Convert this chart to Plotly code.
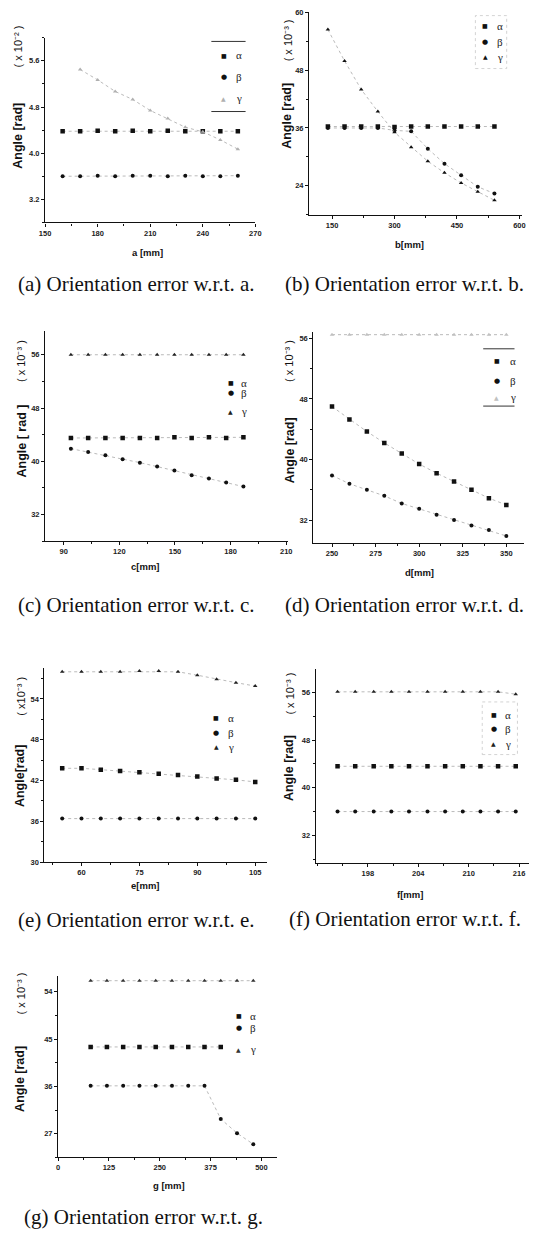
import plotly.graph_objects as go

W, H = 543, 1252

# ---------------- data ----------------
a_x = [160, 170, 180, 190, 200, 210, 220, 230, 240, 250, 260]
a_alpha = [4.38, 4.38, 4.39, 4.38, 4.39, 4.38, 4.39, 4.38, 4.38, 4.38, 4.38]
a_beta = [3.60, 3.60, 3.61, 3.60, 3.61, 3.61, 3.60, 3.61, 3.60, 3.60, 3.61]
a_gamma_x = [170, 180, 190, 200, 210, 220, 230, 240, 250, 260]
a_gamma = [5.45, 5.27, 5.07, 4.93, 4.74, 4.60, 4.45, 4.37, 4.23, 4.07]

b_x = [140, 180, 220, 260, 300, 340, 380, 420, 460, 500, 540]
b_alpha = [36.3, 36.3, 36.3, 36.3, 36.2, 36.3, 36.3, 36.3, 36.3, 36.3, 36.3]
b_beta = [36.0, 36.0, 36.0, 36.0, 35.5, 35.3, 31.7, 28.6, 26.2, 23.8, 22.4]
b_gamma = [56.4, 49.9, 44.0, 39.4, 35.1, 32.0, 29.1, 26.7, 24.6, 22.8, 21.0]

c_x = [93.9, 103.2, 112.5, 121.8, 131.1, 140.4, 149.7, 159.0, 168.3, 177.6, 186.9]
c_alpha = [43.5, 43.5, 43.5, 43.5, 43.5, 43.5, 43.6, 43.5, 43.6, 43.5, 43.6]
c_beta = [41.9, 41.4, 40.9, 40.3, 39.8, 39.2, 38.6, 37.9, 37.4, 36.8, 36.2]
c_gamma = [56.0, 56.0, 56.0, 56.0, 56.0, 56.0, 56.0, 56.0, 56.0, 56.0, 56.0]

d_x = [250, 260, 270, 280, 290, 300, 310, 320, 330, 340, 350]
d_alpha = [47.0, 45.3, 43.7, 42.2, 40.8, 39.4, 38.2, 37.1, 36.0, 34.9, 34.0]
d_beta = [37.9, 36.8, 36.0, 35.2, 34.2, 33.5, 32.7, 32.0, 31.3, 30.7, 29.9]
d_gamma = [56.5, 56.5, 56.5, 56.5, 56.5, 56.5, 56.5, 56.5, 56.5, 56.5, 56.5]

e_x = [55, 60, 65, 70, 75, 80, 85, 90, 95, 100, 105]
e_alpha = [43.8, 43.8, 43.6, 43.4, 43.2, 43.0, 42.8, 42.6, 42.3, 42.1, 41.8]
e_beta = [36.4, 36.4, 36.4, 36.4, 36.4, 36.4, 36.4, 36.4, 36.4, 36.4, 36.4]
e_gamma = [58.0, 58.0, 58.0, 58.0, 58.1, 58.1, 58.0, 57.5, 56.9, 56.4, 55.9]

f_x = [194.4, 196.5, 198.7, 200.8, 202.9, 205.1, 207.2, 209.3, 211.4, 213.5, 215.6]
f_alpha = [43.6, 43.6, 43.6, 43.6, 43.6, 43.6, 43.6, 43.6, 43.6, 43.6, 43.6]
f_beta = [36.0, 36.0, 36.0, 36.0, 36.0, 36.0, 36.0, 36.0, 36.0, 36.0, 36.0]
f_gamma = [56.1, 56.1, 56.1, 56.1, 56.1, 56.1, 56.1, 56.1, 56.1, 56.1, 55.7]

g_x = [80, 120, 160, 200, 240, 280, 320, 360, 400, 440, 480]
g_alpha_x = [80, 120, 160, 200, 240, 280, 320, 360, 400]
g_alpha = [43.5, 43.5, 43.5, 43.5, 43.5, 43.5, 43.5, 43.5, 43.5]
g_beta = [36.1, 36.1, 36.1, 36.1, 36.1, 36.1, 36.1, 36.1, 29.8, 27.1, 25.0]
g_gamma = [56.1, 56.1, 56.1, 56.1, 56.1, 56.1, 56.1, 56.1, 56.1, 56.1, 56.1]

# tick labels
a_xticks = [150, 180, 210, 240, 270]
a_yticks = [3.2, 4.0, 4.8, 5.6]
b_xticks = [150, 300, 450, 600]
b_yticks = [24, 36, 48, 60]
c_xticks = [90, 120, 150, 180, 210]
c_yticks = [32, 40, 48, 56]
d_xticks = [250, 275, 300, 325, 350]
d_yticks = [32, 40, 48, 56]
e_xticks = [60, 75, 90, 105]
e_yticks = [30, 36, 42, 48, 54]
f_xticks = [198, 204, 210, 216]
f_yticks = [32, 40, 48, 56]
g_xticks = [0, 125, 250, 375, 500]
g_yticks = [27, 36, 45, 54]

series_names = ["α", "β", "γ"]
captions = ["(a) Orientation error w.r.t. a.", "(b) Orientation error w.r.t. b.",
            "(c) Orientation error w.r.t. c.", "(d) Orientation error w.r.t. d.",
            "(e) Orientation error w.r.t. e.", "(f) Orientation error w.r.t. f.",
            "(g) Orientation error w.r.t. g."]
xtitles = ["a [mm]", "b[mm]", "c[mm]", "d[mm]", "e[mm]", "f[mm]", "g [mm]"]
ytitles = ["Angle [rad]", "Angle [rad]", "Angle [ rad ]", "Angle [rad]",
           "Angle[rad]", "Angle [rad]", "Angle [rad]"]
scales = ["( x 10⁻² )", "( x 10⁻³ )", "( x 10⁻³ )", "( x 10⁻³ )",
          "( x10⁻³ )", "( x 10⁻³ )", "( x 10⁻³ )"]

# ---------------- geometry (pixels) ----------------
panels = [
    dict(L=40, R=255, T=34, B=220, xr=[150, 270], yr=[2.8, 6.0], xt=a_xticks, yt=a_yticks, fmt=".1f", xm=15, ym=0.4, x0=150, y0=2.8),
    dict(L=310, R=528, T=8.3, B=212.3, xr=[95, 607], yr=[18, 60], xt=b_xticks, yt=b_yticks, fmt="d", xm=75, ym=6, x0=0, y0=0),
    dict(L=40, R=288.5, T=329.8, B=541.1, xr=[80, 211], yr=[28, 59.5], xt=c_xticks, yt=c_yticks, fmt="d", xm=15, ym=4, x0=0, y0=0),
    dict(L=314.3, R=530, T=330, B=542.7, xr=[239.3, 360.3], yr=[29, 56.9], xt=d_xticks, yt=d_yticks, fmt="d", xm=12.5, ym=4, x0=0, y0=0),
    dict(L=39.3, R=266.7, T=669.2, B=864.3, xr=[50.4, 108], yr=[30, 58.5], xt=e_xticks, yt=e_yticks, fmt="d", xm=7.5, ym=3, x0=0, y0=0),
    dict(L=316.7, R=535, T=670, B=865, xr=[191.8, 217.2], yr=[27.4, 59.9], xt=f_xticks, yt=f_yticks, fmt="d", xm=3, ym=4, x0=0, y0=0),
    dict(L=53.3, R=277, T=979, B=1161.7, xr=[0, 538], yr=[22.5, 57], xt=g_xticks, yt=g_yticks, fmt="d", xm=62.5, ym=4.5, x0=0, y0=0),
]

series = [
    (a_x, a_alpha, a_x, a_beta, a_gamma_x, a_gamma),
    (b_x, b_alpha, b_x, b_beta, b_x, b_gamma),
    (c_x, c_alpha, c_x, c_beta, c_x, c_gamma),
    (d_x, d_alpha, d_x, d_beta, d_x, d_gamma),
    (e_x, e_alpha, e_x, e_beta, e_x, e_gamma),
    (f_x, f_alpha, f_x, f_beta, f_x, f_gamma),
    (g_alpha_x, g_alpha, g_x, g_beta, g_x, g_gamma),
]
gamma_colors = ["#b0b0b0", "#111", "#222", "#c0c0c0", "#222", "#222", "#333"]

xtitle_pos = [(145, 250), (413, 242), (143, 567), (423, 573), (143, 888), (413, 897), (167, 1190)]
ytitle_pos = [(12, 133), (288, 113), (16, 440), (290, 450), (15, 777), (290, 770), (15, 1083)]
scale_pos = [(12, 43), (288, 37), (16, 360), (290, 360), (15, 697), (290, 695), (15, 997)]
caption_pos = [(133, 282), (408, 282), (133, 605), (408, 605), (133, 923), (408, 922), (141, 1222)]
legend_pos = [
    (222.7, 238, [51.7, 73.3, 95]),
    (490, 505, [21.7, 38.3, 53.3]),
    (230, 243, [381.7, 391.7, 410]),
    (502, 518, [359.3, 379.3, 396]),
    (215, 230, [719, 734.3, 748.3]),
    (499, 513, [716, 730, 745]),
    (238, 253, [1019, 1031, 1053]),
]

def px(xp):
    return xp / W

def py(yp):
    return 1 - yp / H

def label(xp, yp, text, font, angle=0):
    return dict(x=px(xp), y=py(yp), xref="paper", yref="paper", text=text,
                showarrow=False, xanchor="center", yanchor="middle",
                textangle=angle, font=font)

fig = go.Figure()
layout = {}
annotations = []
shapes = []

tickfont = dict(family="Liberation Sans", size=7.5, color="#222", weight="bold")
symbols = ["square", "circle", "triangle-up"]
legend_glyph = ["■", "●", "▲"]

for i, p in enumerate(panels):
    k = i + 1
    xa = "xaxis" if k == 1 else f"xaxis{k}"
    ya = "yaxis" if k == 1 else f"yaxis{k}"
    xr = "x" if k == 1 else f"x{k}"
    yr = "y" if k == 1 else f"y{k}"
    layout[xa] = dict(
        domain=[px(p["L"]), px(p["R"])], range=p["xr"], anchor=yr,
        showline=True, linecolor="#111", linewidth=1.2, mirror=False,
        showgrid=False, zeroline=False, ticks="outside", ticklen=3, tickwidth=1,
        tickcolor="#111", tickmode="array", tickvals=p["xt"],
        ticktext=[str(v) for v in p["xt"]], tickfont=tickfont,
        minor=dict(ticks="outside", ticklen=2, dtick=p["xm"], tick0=p["x0"], tickcolor="#111"),
    )
    layout[ya] = dict(
        domain=[py(p["B"]), py(p["T"])], range=p["yr"], anchor=xr,
        showline=True, linecolor="#111", linewidth=1.2, mirror=False,
        showgrid=False, zeroline=False, ticks="outside", ticklen=3, tickwidth=1,
        tickcolor="#111", tickmode="array", tickvals=p["yt"],
        ticktext=[format(v, p["fmt"]) for v in p["yt"]], tickfont=tickfont,
        minor=dict(ticks="outside", ticklen=2, dtick=p["ym"], tick0=p["y0"], tickcolor="#111"),
    )
    ax_, ay_, bx_, by_, gx_, gy_ = series[i]
    data3 = [(ax_, ay_, "#111"), (bx_, by_, "#111"), (gx_, gy_, gamma_colors[i])]
    for j, (sx, sy, col) in enumerate(data3):
        fig.add_trace(go.Scatter(
            x=sx, y=sy, xaxis=xr, yaxis=yr, mode="lines+markers",
            name=series_names[j], showlegend=False,
            line=dict(color="#a8a8a8", width=0.8, dash="dot"),
            marker=dict(symbol=symbols[j], size=4.5 if j == 0 else 4, color=col,
                        line=dict(width=0)),
        ))
    annotations.append(label(*xtitle_pos[i], f"<b>{xtitles[i]}</b>",
                             dict(family="Liberation Sans", size=9.5, color="#111")))
    annotations.append(label(*ytitle_pos[i], f"<b>{ytitles[i]}</b>",
                             dict(family="Liberation Sans", size=12.5, color="#111"), -90))
    annotations.append(label(*scale_pos[i], scales[i],
                             dict(family="Liberation Sans", size=11, color="#111"), -90))
    annotations.append(label(*caption_pos[i], captions[i],
                             dict(family="Liberation Serif", size=21, color="#111")))
    mx, tx, ys = legend_pos[i]
    for j in range(3):
        annotations.append(label(mx, ys[j], legend_glyph[j],
                                 dict(family="DejaVu Sans", size=6 if j != 1 else 7,
                                      color="#111" if j < 2 else gamma_colors[i])))
        annotations.append(label(tx, ys[j], series_names[j],
                                 dict(family="Liberation Serif", size=11, color="#222")))

for (x0, x1, y0, y1) in [(210, 245, 37.7, 108.3), (488, 520, 347.3, 405)]:
    for yy in (y0, y1):
        shapes.append(dict(type="line", xref="paper", yref="paper",
                           x0=px(x0), x1=px(x1), y0=py(yy), y1=py(yy),
                           line=dict(color="#333", width=1)))
for (x0, x1, y0, y1) in [(480, 512, 11.7, 65), (487, 523, 703, 756)]:
    shapes.append(dict(type="rect", xref="paper", yref="paper",
                       x0=px(x0), x1=px(x1), y0=py(y1), y1=py(y0),
                       line=dict(color="#c8c8c8", width=0.8, dash="dot")))

fig.update_layout(
    width=W, height=H, margin=dict(l=0, r=0, t=0, b=0),
    paper_bgcolor="white", plot_bgcolor="white", showlegend=False,
    annotations=annotations, shapes=shapes, **layout,
)

fig.write_html("out.html", config={"displayModeBar": False},
               post_script="document.body.style.margin='0';document.body.style.overflow='hidden';")
